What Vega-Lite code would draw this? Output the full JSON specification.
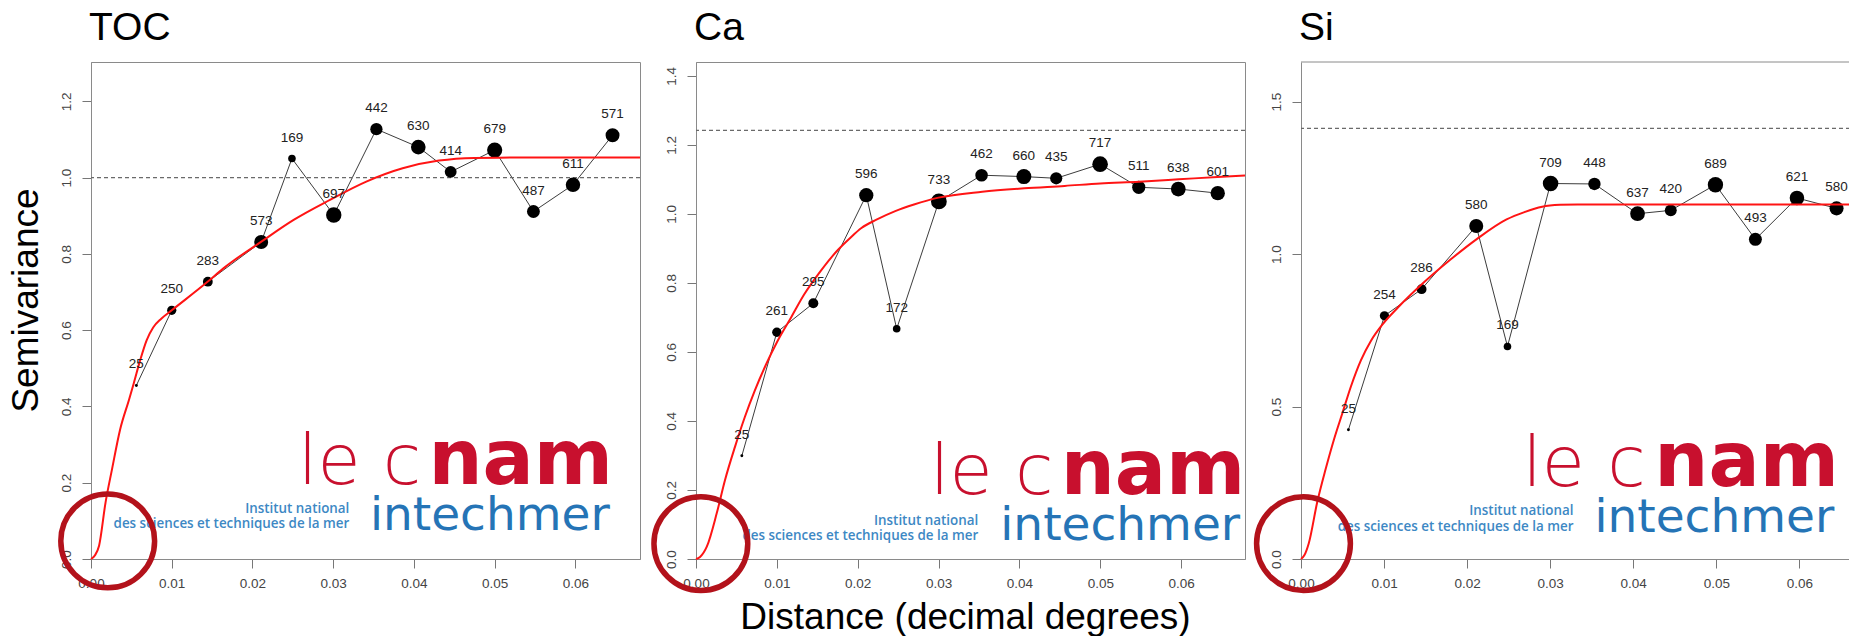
{
  "$schema": "https://vega.github.io/schema/vega-lite/v6.json",
  "background": "white",
  "padding": {"left": 6, "top": 8, "right": 0, "bottom": 0},
  "bounds": "flush",
  "spacing": 56,
  "config": {
    "view": {"stroke": "#8a8a8a", "strokeWidth": 1},
    "font": "Liberation Sans",
    "axis": {
      "grid": false, "labelFont": "Liberation Sans", "labelFontSize": 13.5, "labelColor": "#444444",
      "tickColor": "#777777", "domainColor": "#8a8a8a", "tickSize": 9, "labelFlush": false, "labelOverlap": false,
      "titleFont": "Liberation Sans", "titleFontWeight": "normal", "titleColor": "#000000", "titleFontSize": 37
    },
    "axisX": {"labelPadding": 8},
    "axisY": {"labelPadding": 9, "labelAngle": -90, "labelAlign": "center", "labelBaseline": "bottom"},
    "title": {"font": "Liberation Sans", "fontSize": 39, "fontWeight": "normal", "color": "#000000", "anchor": "start", "frame": "group", "baseline": "alphabetic", "offset": 14, "dx": -2}
  },
  "datasets": {
    "toc_pts": [
      {"d": 0.00562, "g": 0.455, "n": 25},
      {"d": 0.0100, "g": 0.652, "n": 250},
      {"d": 0.01447, "g": 0.727, "n": 283},
      {"d": 0.02108, "g": 0.831, "n": 573},
      {"d": 0.02489, "g": 1.050, "n": 169},
      {"d": 0.03007, "g": 0.902, "n": 697},
      {"d": 0.03535, "g": 1.127, "n": 442},
      {"d": 0.04054, "g": 1.080, "n": 630},
      {"d": 0.04455, "g": 1.015, "n": 414},
      {"d": 0.0500, "g": 1.072, "n": 679},
      {"d": 0.0548, "g": 0.911, "n": 487},
      {"d": 0.0597, "g": 0.981, "n": 611},
      {"d": 0.0646, "g": 1.111, "n": 571}
    ],
    "toc_fit": [
      {"d": 0, "g": 0}, {"d": 0.0005, "g": 0.010}, {"d": 0.0010, "g": 0.035}, {"d": 0.0018, "g": 0.148},
      {"d": 0.0026, "g": 0.235}, {"d": 0.0036, "g": 0.339}, {"d": 0.0047, "g": 0.417}, {"d": 0.0053, "g": 0.461},
      {"d": 0.0061, "g": 0.522}, {"d": 0.0069, "g": 0.574}, {"d": 0.0077, "g": 0.607}, {"d": 0.0087, "g": 0.630},
      {"d": 0.0100, "g": 0.652}, {"d": 0.0144, "g": 0.726}, {"d": 0.0164, "g": 0.762}, {"d": 0.0211, "g": 0.832},
      {"d": 0.0251, "g": 0.889}, {"d": 0.0296, "g": 0.9415}, {"d": 0.0341, "g": 0.9895}, {"d": 0.0386, "g": 1.0245},
      {"d": 0.0431, "g": 1.0445}, {"d": 0.0475, "g": 1.0515}, {"d": 0.0520, "g": 1.0524}, {"d": 0.0680, "g": 1.0525}
    ],
    "ca_pts": [
      {"d": 0.00567, "g": 0.299, "n": 25},
      {"d": 0.0100, "g": 0.657, "n": 261},
      {"d": 0.01451, "g": 0.741, "n": 295},
      {"d": 0.02106, "g": 1.054, "n": 596},
      {"d": 0.02482, "g": 0.667, "n": 172},
      {"d": 0.03004, "g": 1.036, "n": 733},
      {"d": 0.03532, "g": 1.112, "n": 462},
      {"d": 0.04055, "g": 1.108, "n": 660},
      {"d": 0.04455, "g": 1.103, "n": 435},
      {"d": 0.04998, "g": 1.144, "n": 717},
      {"d": 0.05476, "g": 1.077, "n": 511},
      {"d": 0.05965, "g": 1.072, "n": 638},
      {"d": 0.06453, "g": 1.060, "n": 601}
    ],
    "ca_fit": [
      {"d": 0, "g": 0}, {"d": 0.0005, "g": 0.006}, {"d": 0.00135, "g": 0.0365}, {"d": 0.00257, "g": 0.133},
      {"d": 0.00359, "g": 0.229}, {"d": 0.00482, "g": 0.325}, {"d": 0.00604, "g": 0.4115}, {"d": 0.00727, "g": 0.488},
      {"d": 0.00869, "g": 0.565}, {"d": 0.01012, "g": 0.633}, {"d": 0.01176, "g": 0.700}, {"d": 0.01339, "g": 0.767},
      {"d": 0.01543, "g": 0.835}, {"d": 0.01757, "g": 0.896}, {"d": 0.0191, "g": 0.931}, {"d": 0.02046, "g": 0.959},
      {"d": 0.02232, "g": 0.983}, {"d": 0.02464, "g": 1.0078}, {"d": 0.02696, "g": 1.027}, {"d": 0.02999, "g": 1.047},
      {"d": 0.0354, "g": 1.064}, {"d": 0.0406, "g": 1.074}, {"d": 0.0456, "g": 1.081}, {"d": 0.0500, "g": 1.088},
      {"d": 0.0548, "g": 1.093}, {"d": 0.0597, "g": 1.100}, {"d": 0.0645, "g": 1.107}, {"d": 0.0679, "g": 1.111}
    ],
    "si_pts": [
      {"d": 0.00571, "g": 0.424, "n": 25},
      {"d": 0.01005, "g": 0.7975, "n": 254},
      {"d": 0.01452, "g": 0.885, "n": 286},
      {"d": 0.0211, "g": 1.092, "n": 580},
      {"d": 0.02486, "g": 0.697, "n": 169},
      {"d": 0.03005, "g": 1.2315, "n": 709},
      {"d": 0.03533, "g": 1.230, "n": 448},
      {"d": 0.04052, "g": 1.1325, "n": 637},
      {"d": 0.04452, "g": 1.1434, "n": 420},
      {"d": 0.0499, "g": 1.2275, "n": 689},
      {"d": 0.05471, "g": 1.0484, "n": 493},
      {"d": 0.05971, "g": 1.184, "n": 621},
      {"d": 0.06448, "g": 1.150, "n": 580}
    ],
    "si_fit": [
      {"d": 0, "g": 0}, {"d": 0.0004, "g": 0.012}, {"d": 0.00093, "g": 0.051}, {"d": 0.00195, "g": 0.186},
      {"d": 0.00296, "g": 0.294}, {"d": 0.00397, "g": 0.392}, {"d": 0.00498, "g": 0.478}, {"d": 0.0060, "g": 0.565},
      {"d": 0.00721, "g": 0.6515}, {"d": 0.00843, "g": 0.716}, {"d": 0.00985, "g": 0.7706}, {"d": 0.01167, "g": 0.8247},
      {"d": 0.01451, "g": 0.900}, {"d": 0.0180, "g": 0.982}, {"d": 0.0212, "g": 1.050}, {"d": 0.02475, "g": 1.1138},
      {"d": 0.0269, "g": 1.1378}, {"d": 0.02904, "g": 1.1552}, {"d": 0.03119, "g": 1.1615}, {"d": 0.0333, "g": 1.163},
      {"d": 0.0661, "g": 1.163}
    ]
  },
  "hconcat": [
    {
      "width": 549, "height": 497,
      "title": {"text": "TOC"},
      "layer": [
        {"data": {"name": "toc_pts"}, "mark": {"type": "line", "color": "#3c3c3c", "strokeWidth": 1},
         "encoding": {
           "x": {"field": "d", "type": "quantitative", "scale": {"domain": [0, 0.068], "nice": false, "zero": false},
                 "axis": {"values": [0, 0.01, 0.02, 0.03, 0.04, 0.05, 0.06], "format": ".2f", "title": null}},
           "y": {"field": "g", "type": "quantitative", "scale": {"domain": [0, 1.303], "nice": false, "zero": false},
                 "axis": {"values": [0, 0.2, 0.4, 0.6, 0.8, 1.0, 1.2], "format": ".1f", "title": "Semivariance",
                          "titleAngle": 270, "titleX": -53.8, "titleY": 238, "titleAlign": "center", "titleBaseline": "alphabetic"}}}},
        {"data": {"values": [{"g": 1.0}]}, "mark": {"type": "rule", "color": "#6a6a6a", "strokeDash": [4, 3], "strokeWidth": 1.2},
         "encoding": {"y": {"field": "g", "type": "quantitative", "scale": {"domain": [0, 1.303], "nice": false, "zero": false}}}},
        {"data": {"name": "toc_pts"}, "mark": {"type": "circle", "color": "#000000", "opacity": 1},
         "encoding": {
           "x": {"field": "d", "type": "quantitative", "scale": {"domain": [0, 0.068], "nice": false, "zero": false}},
           "y": {"field": "g", "type": "quantitative", "scale": {"domain": [0, 1.303], "nice": false, "zero": false}},
           "size": {"field": "n", "type": "quantitative", "scale": {"domain": [0, 1000], "range": [0, 340], "zero": true}, "legend": null}}},
        {"data": {"name": "toc_fit"}, "mark": {"type": "line", "color": "#ff1414", "strokeWidth": 2, "interpolate": "monotone"},
         "encoding": {
           "x": {"field": "d", "type": "quantitative", "scale": {"domain": [0, 0.068], "nice": false, "zero": false}},
           "y": {"field": "g", "type": "quantitative", "scale": {"domain": [0, 1.303], "nice": false, "zero": false}}}},
        {"data": {"name": "toc_pts"}, "mark": {"type": "text", "dy": -21, "fontSize": 13.5, "color": "#222222", "font": "Liberation Sans"},
         "encoding": {
           "x": {"field": "d", "type": "quantitative", "scale": {"domain": [0, 0.068], "nice": false, "zero": false}},
           "y": {"field": "g", "type": "quantitative", "scale": {"domain": [0, 1.303], "nice": false, "zero": false}},
           "text": {"field": "n", "type": "quantitative", "format": "d"}}},
        {"data": {"values": [{}]}, "mark": {"type": "text", "text": "le c", "font": "DejaVu Sans", "fontWeight": 200, "fontSize": 70, "color": "#c8102e", "align": "right", "baseline": "alphabetic"},
         "encoding": {"x": {"datum": 0.0409, "type": "quantitative", "scale": {"domain": [0, 0.068], "nice": false, "zero": false}},
                      "y": {"datum": 0.197, "type": "quantitative", "scale": {"domain": [0, 1.303], "nice": false, "zero": false}}}},
        {"data": {"values": [{}]}, "mark": {"type": "text", "text": "nam", "font": "DejaVu Sans", "fontWeight": "bold", "fontSize": 76, "color": "#c8102e", "align": "left", "baseline": "alphabetic"},
         "encoding": {"x": {"datum": 0.0418, "type": "quantitative", "scale": {"domain": [0, 0.068], "nice": false, "zero": false}},
                      "y": {"datum": 0.197, "type": "quantitative", "scale": {"domain": [0, 1.303], "nice": false, "zero": false}}}},
        {"data": {"values": [{}]}, "mark": {"type": "text", "text": "intechmer", "font": "DejaVu Sans", "fontSize": 47, "color": "#2574b6", "align": "right", "baseline": "alphabetic"},
         "encoding": {"x": {"datum": 0.06425, "type": "quantitative", "scale": {"domain": [0, 0.068], "nice": false, "zero": false}},
                      "y": {"datum": 0.077, "type": "quantitative", "scale": {"domain": [0, 1.303], "nice": false, "zero": false}}}},
        {"data": {"values": [{}]}, "mark": {"type": "text", "text": "Institut national", "font": "Open Sans", "fontWeight": 600, "fontSize": 13.4, "color": "#3d88c4", "align": "right", "baseline": "middle"},
         "encoding": {"x": {"datum": 0.032, "type": "quantitative", "scale": {"domain": [0, 0.068], "nice": false, "zero": false}},
                      "y": {"datum": 0.1306, "type": "quantitative", "scale": {"domain": [0, 1.303], "nice": false, "zero": false}}}},
        {"data": {"values": [{}]}, "mark": {"type": "text", "text": "des sciences et techniques de la mer", "font": "Open Sans", "fontWeight": 600, "fontSize": 13.4, "color": "#3d88c4", "align": "right", "baseline": "middle"},
         "encoding": {"x": {"datum": 0.032, "type": "quantitative", "scale": {"domain": [0, 0.068], "nice": false, "zero": false}},
                      "y": {"datum": 0.091, "type": "quantitative", "scale": {"domain": [0, 1.303], "nice": false, "zero": false}}}},
        {"data": {"values": [{}]}, "mark": {"type": "point", "shape": "circle", "filled": false, "size": 8800, "strokeWidth": 5.5, "color": "#b3121b", "opacity": 1},
         "encoding": {"x": {"datum": 0.00207, "type": "quantitative", "scale": {"domain": [0, 0.068], "nice": false, "zero": false}},
                      "y": {"datum": 0.0474, "type": "quantitative", "scale": {"domain": [0, 1.303], "nice": false, "zero": false}}}}
      ]
    },
    {
      "width": 549, "height": 497,
      "title": {"text": "Ca"},
      "layer": [
        {"data": {"name": "ca_pts"}, "mark": {"type": "line", "color": "#3c3c3c", "strokeWidth": 1},
         "encoding": {
           "x": {"field": "d", "type": "quantitative", "scale": {"domain": [0, 0.0679], "nice": false, "zero": false},
                 "axis": {"values": [0, 0.01, 0.02, 0.03, 0.04, 0.05, 0.06], "format": ".2f", "title": "Distance (decimal degrees)",
                          "titleX": 269, "titleY": 69.3, "titleAlign": "center", "titleBaseline": "alphabetic"}},
           "y": {"field": "g", "type": "quantitative", "scale": {"domain": [0, 1.44], "nice": false, "zero": false},
                 "axis": {"values": [0, 0.2, 0.4, 0.6, 0.8, 1.0, 1.2, 1.4], "format": ".1f", "title": null}}}},
        {"data": {"values": [{"g": 1.242}]}, "mark": {"type": "rule", "color": "#6a6a6a", "strokeDash": [4, 3], "strokeWidth": 1.2},
         "encoding": {"y": {"field": "g", "type": "quantitative", "scale": {"domain": [0, 1.44], "nice": false, "zero": false}}}},
        {"data": {"name": "ca_pts"}, "mark": {"type": "circle", "color": "#000000", "opacity": 1},
         "encoding": {
           "x": {"field": "d", "type": "quantitative", "scale": {"domain": [0, 0.0679], "nice": false, "zero": false}},
           "y": {"field": "g", "type": "quantitative", "scale": {"domain": [0, 1.44], "nice": false, "zero": false}},
           "size": {"field": "n", "type": "quantitative", "scale": {"domain": [0, 1000], "range": [0, 340], "zero": true}, "legend": null}}},
        {"data": {"name": "ca_fit"}, "mark": {"type": "line", "color": "#ff1414", "strokeWidth": 2, "interpolate": "monotone"},
         "encoding": {
           "x": {"field": "d", "type": "quantitative", "scale": {"domain": [0, 0.0679], "nice": false, "zero": false}},
           "y": {"field": "g", "type": "quantitative", "scale": {"domain": [0, 1.44], "nice": false, "zero": false}}}},
        {"data": {"name": "ca_pts"}, "mark": {"type": "text", "dy": -21, "fontSize": 13.5, "color": "#222222", "font": "Liberation Sans"},
         "encoding": {
           "x": {"field": "d", "type": "quantitative", "scale": {"domain": [0, 0.0679], "nice": false, "zero": false}},
           "y": {"field": "g", "type": "quantitative", "scale": {"domain": [0, 1.44], "nice": false, "zero": false}},
           "text": {"field": "n", "type": "quantitative", "format": "d"}}},
        {"data": {"values": [{}]}, "mark": {"type": "text", "text": "le c", "font": "DejaVu Sans", "fontWeight": 200, "fontSize": 70, "color": "#c8102e", "align": "right", "baseline": "alphabetic"},
         "encoding": {"x": {"datum": 0.0442, "type": "quantitative", "scale": {"domain": [0, 0.0679], "nice": false, "zero": false}},
                      "y": {"datum": 0.187, "type": "quantitative", "scale": {"domain": [0, 1.44], "nice": false, "zero": false}}}},
        {"data": {"values": [{}]}, "mark": {"type": "text", "text": "nam", "font": "DejaVu Sans", "fontWeight": "bold", "fontSize": 76, "color": "#c8102e", "align": "left", "baseline": "alphabetic"},
         "encoding": {"x": {"datum": 0.0451, "type": "quantitative", "scale": {"domain": [0, 0.0679], "nice": false, "zero": false}},
                      "y": {"datum": 0.187, "type": "quantitative", "scale": {"domain": [0, 1.44], "nice": false, "zero": false}}}},
        {"data": {"values": [{}]}, "mark": {"type": "text", "text": "intechmer", "font": "DejaVu Sans", "fontSize": 47, "color": "#2574b6", "align": "right", "baseline": "alphabetic"},
         "encoding": {"x": {"datum": 0.0673, "type": "quantitative", "scale": {"domain": [0, 0.0679], "nice": false, "zero": false}},
                      "y": {"datum": 0.0538, "type": "quantitative", "scale": {"domain": [0, 1.44], "nice": false, "zero": false}}}},
        {"data": {"values": [{}]}, "mark": {"type": "text", "text": "Institut national", "font": "Open Sans", "fontWeight": 600, "fontSize": 13.4, "color": "#3d88c4", "align": "right", "baseline": "middle"},
         "encoding": {"x": {"datum": 0.0349, "type": "quantitative", "scale": {"domain": [0, 0.0679], "nice": false, "zero": false}},
                      "y": {"datum": 0.11, "type": "quantitative", "scale": {"domain": [0, 1.44], "nice": false, "zero": false}}}},
        {"data": {"values": [{}]}, "mark": {"type": "text", "text": "des sciences et techniques de la mer", "font": "Open Sans", "fontWeight": 600, "fontSize": 13.4, "color": "#3d88c4", "align": "right", "baseline": "middle"},
         "encoding": {"x": {"datum": 0.0349, "type": "quantitative", "scale": {"domain": [0, 0.0679], "nice": false, "zero": false}},
                      "y": {"datum": 0.068, "type": "quantitative", "scale": {"domain": [0, 1.44], "nice": false, "zero": false}}}},
        {"data": {"values": [{}]}, "mark": {"type": "point", "shape": "circle", "filled": false, "size": 8800, "strokeWidth": 5.5, "color": "#b3121b", "opacity": 1},
         "encoding": {"x": {"datum": 0.0006, "type": "quantitative", "scale": {"domain": [0, 0.0679], "nice": false, "zero": false}},
                      "y": {"datum": 0.0445, "type": "quantitative", "scale": {"domain": [0, 1.44], "nice": false, "zero": false}}}}
      ]
    },
    {
      "width": 549, "height": 497,
      "title": {"text": "Si"},
      "view": {"stroke": null},
      "layer": [
        {"data": {"name": "si_pts"}, "mark": {"type": "line", "color": "#3c3c3c", "strokeWidth": 1},
         "encoding": {
           "x": {"field": "d", "type": "quantitative", "scale": {"domain": [0, 0.0661], "nice": false, "zero": false},
                 "axis": {"values": [0, 0.01, 0.02, 0.03, 0.04, 0.05, 0.06], "format": ".2f", "title": null}},
           "y": {"field": "g", "type": "quantitative", "scale": {"domain": [0, 1.63], "nice": false, "zero": false},
                 "axis": {"values": [0, 0.5, 1.0, 1.5], "format": ".1f", "title": null}}}},
        {"data": {"values": [{"g": 1.63}]}, "mark": {"type": "rule", "color": "#8a8a8a", "strokeWidth": 1},
         "encoding": {"y": {"field": "g", "type": "quantitative", "scale": {"domain": [0, 1.63], "nice": false, "zero": false}}}},
        {"data": {"values": [{"g": 1.412}]}, "mark": {"type": "rule", "color": "#6a6a6a", "strokeDash": [4, 3], "strokeWidth": 1.2},
         "encoding": {"y": {"field": "g", "type": "quantitative", "scale": {"domain": [0, 1.63], "nice": false, "zero": false}}}},
        {"data": {"name": "si_pts"}, "mark": {"type": "circle", "color": "#000000", "opacity": 1},
         "encoding": {
           "x": {"field": "d", "type": "quantitative", "scale": {"domain": [0, 0.0661], "nice": false, "zero": false}},
           "y": {"field": "g", "type": "quantitative", "scale": {"domain": [0, 1.63], "nice": false, "zero": false}},
           "size": {"field": "n", "type": "quantitative", "scale": {"domain": [0, 1000], "range": [0, 340], "zero": true}, "legend": null}}},
        {"data": {"name": "si_fit"}, "mark": {"type": "line", "color": "#ff1414", "strokeWidth": 2, "interpolate": "monotone"},
         "encoding": {
           "x": {"field": "d", "type": "quantitative", "scale": {"domain": [0, 0.0661], "nice": false, "zero": false}},
           "y": {"field": "g", "type": "quantitative", "scale": {"domain": [0, 1.63], "nice": false, "zero": false}}}},
        {"data": {"name": "si_pts"}, "mark": {"type": "text", "dy": -21, "fontSize": 13.5, "color": "#222222", "font": "Liberation Sans"},
         "encoding": {
           "x": {"field": "d", "type": "quantitative", "scale": {"domain": [0, 0.0661], "nice": false, "zero": false}},
           "y": {"field": "g", "type": "quantitative", "scale": {"domain": [0, 1.63], "nice": false, "zero": false}},
           "text": {"field": "n", "type": "quantitative", "format": "d"}}},
        {"data": {"values": [{}]}, "mark": {"type": "text", "text": "le c", "font": "DejaVu Sans", "fontWeight": 200, "fontSize": 70, "color": "#c8102e", "align": "right", "baseline": "alphabetic"},
         "encoding": {"x": {"datum": 0.0415, "type": "quantitative", "scale": {"domain": [0, 0.0661], "nice": false, "zero": false}},
                      "y": {"datum": 0.239, "type": "quantitative", "scale": {"domain": [0, 1.63], "nice": false, "zero": false}}}},
        {"data": {"values": [{}]}, "mark": {"type": "text", "text": "nam", "font": "DejaVu Sans", "fontWeight": "bold", "fontSize": 76, "color": "#c8102e", "align": "left", "baseline": "alphabetic"},
         "encoding": {"x": {"datum": 0.04254, "type": "quantitative", "scale": {"domain": [0, 0.0661], "nice": false, "zero": false}},
                      "y": {"datum": 0.239, "type": "quantitative", "scale": {"domain": [0, 1.63], "nice": false, "zero": false}}}},
        {"data": {"values": [{}]}, "mark": {"type": "text", "text": "intechmer", "font": "DejaVu Sans", "fontSize": 47, "color": "#2574b6", "align": "right", "baseline": "alphabetic"},
         "encoding": {"x": {"datum": 0.0642, "type": "quantitative", "scale": {"domain": [0, 0.0661], "nice": false, "zero": false}},
                      "y": {"datum": 0.088, "type": "quantitative", "scale": {"domain": [0, 1.63], "nice": false, "zero": false}}}},
        {"data": {"values": [{}]}, "mark": {"type": "text", "text": "Institut national", "font": "Open Sans", "fontWeight": 600, "fontSize": 13.4, "color": "#3d88c4", "align": "right", "baseline": "middle"},
         "encoding": {"x": {"datum": 0.0328, "type": "quantitative", "scale": {"domain": [0, 0.0661], "nice": false, "zero": false}},
                      "y": {"datum": 0.156, "type": "quantitative", "scale": {"domain": [0, 1.63], "nice": false, "zero": false}}}},
        {"data": {"values": [{}]}, "mark": {"type": "text", "text": "des sciences et techniques de la mer", "font": "Open Sans", "fontWeight": 600, "fontSize": 13.4, "color": "#3d88c4", "align": "right", "baseline": "middle"},
         "encoding": {"x": {"datum": 0.0328, "type": "quantitative", "scale": {"domain": [0, 0.0661], "nice": false, "zero": false}},
                      "y": {"datum": 0.106, "type": "quantitative", "scale": {"domain": [0, 1.63], "nice": false, "zero": false}}}},
        {"data": {"values": [{}]}, "mark": {"type": "point", "shape": "circle", "filled": false, "size": 8800, "strokeWidth": 5.5, "color": "#b3121b", "opacity": 1},
         "encoding": {"x": {"datum": 0.0003, "type": "quantitative", "scale": {"domain": [0, 0.0661], "nice": false, "zero": false}},
                      "y": {"datum": 0.0505, "type": "quantitative", "scale": {"domain": [0, 1.63], "nice": false, "zero": false}}}}
      ]
    }
  ]
}
